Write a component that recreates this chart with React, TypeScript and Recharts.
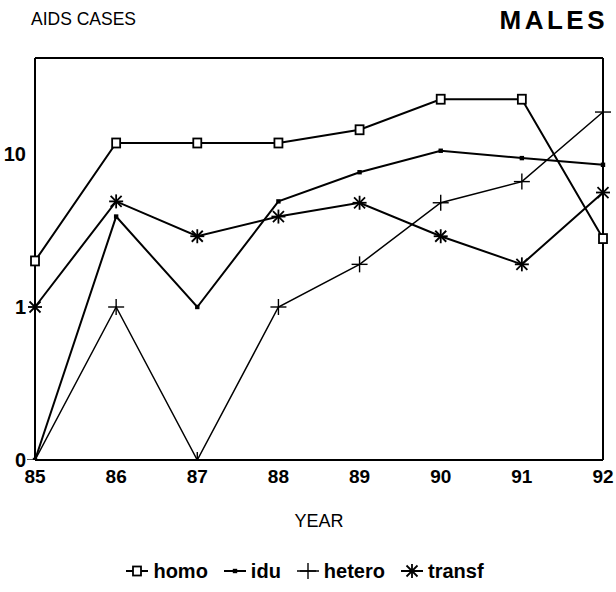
import React from 'react';
import { LineChart, Line, XAxis, YAxis, ReferenceLine } from 'recharts';

const years = [85, 86, 87, 88, 89, 90, 91, 92];
const homo = [2, 11.8, 11.8, 11.8, 14.4, 22.8, 22.8, 2.8];
const idu = [0, 3.9, 1, 4.9, 7.6, 10.5, 9.4, 8.5];
const hetero = [0, 1, 0, 1, 1.9, 4.8, 6.6, 18.8];
const transf = [1, 4.9, 2.9, 3.9, 4.8, 2.9, 1.9, 5.6];
const yTicks = [0, 1, 10];
const seriesNames = ['homo', 'idu', 'hetero', 'transf'];

// log axis: a zero value is drawn at the bottom of the axis
const LOG_FLOOR = 0.1;
const Y_TOP = 42.4;
const toLog = (v: number) => (v <= 0 ? LOG_FLOOR : v);

const data = years.map((y, i) => ({
  year: y,
  homo: toLog(homo[i]),
  idu: toLog(idu[i]),
  hetero: toLog(hetero[i]),
  transf: toLog(transf[i]),
}));

const FONT = '"Liberation Sans", Arial, Helvetica, sans-serif';
const NARROW = '"Liberation Sans Narrow", "Liberation Sans", Arial, sans-serif';

const SquareOpen = (p: any) => {
  if (p.cx == null) return null;
  return <rect x={p.cx - 4} y={p.cy - 4.5} width={8} height={9} fill="#fff" stroke="#000" strokeWidth={1.8} />;
};
const SquareSmall = (p: any) => {
  if (p.cx == null) return null;
  return <rect x={p.cx - 2.2} y={p.cy - 2.2} width={4.4} height={4.4} fill="#000" />;
};
const Plus = (p: any) => {
  if (p.cx == null) return null;
  const s = 8;
  return (
    <g stroke="#000" strokeWidth={1.4}>
      <line x1={p.cx - s} y1={p.cy} x2={p.cx + s} y2={p.cy} />
      <line x1={p.cx} y1={p.cy - s} x2={p.cx} y2={p.cy + s} />
    </g>
  );
};
const Star = (p: any) => {
  if (p.cx == null) return null;
  const s = 7;
  const d = 5.5;
  return (
    <g stroke="#000" strokeWidth={1.8}>
      <line x1={p.cx - s} y1={p.cy} x2={p.cx + s} y2={p.cy} />
      <line x1={p.cx} y1={p.cy - s} x2={p.cx} y2={p.cy + s} />
      <line x1={p.cx - d} y1={p.cy - d} x2={p.cx + d} y2={p.cy + d} />
      <line x1={p.cx - d} y1={p.cy + d} x2={p.cx + d} y2={p.cy - d} />
    </g>
  );
};

const dots: Record<string, any> = {
  homo: SquareOpen,
  idu: SquareSmall,
  hetero: Plus,
  transf: Star,
};
const widths: Record<string, number> = { homo: 2, idu: 2, hetero: 1.5, transf: 2 };

const LegendIcon = ({ name }: { name: string }) => {
  const D = dots[name];
  return (
    <svg width={26} height={18} style={{ verticalAlign: 'middle' }}>
      <line x1={2} y1={8} x2={24} y2={8} stroke="#000" strokeWidth={widths[name]} />
      <D cx={13} cy={8} />
    </svg>
  );
};

export default function App() {
  return (
    <div style={{ position: 'absolute', left: 0, top: 0, width: 616, height: 592, background: '#fff' }}>
      <div style={{ position: 'absolute', left: 31, top: 9, fontFamily: FONT, fontSize: 17.5, color: '#000' }}>
        AIDS CASES
      </div>
      <div
        style={{
          position: 'absolute',
          right: 8,
          top: 5,
          fontFamily: FONT,
          fontSize: 26,
          fontWeight: 'bold',
          letterSpacing: 3.5,
          color: '#000',
        }}
      >
        MALES
      </div>
      <LineChart width={616} height={592} data={data} margin={{ top: 58, right: 13, left: 0, bottom: 0 }}>
        <XAxis
          dataKey="year"
          type="number"
          domain={[85, 92]}
          ticks={years}
          tickLine={false}
          tickMargin={4}
          axisLine={{ stroke: '#000', strokeWidth: 2 }}
          tick={{ fill: '#000', fontSize: 19, fontWeight: 'bold', fontFamily: FONT }}
          height={132}
          label={{ value: 'YEAR', position: 'insideBottom', offset: 65, fill: '#000', fontSize: 18, fontFamily: FONT }}
        />
        <YAxis
          scale="log"
          domain={[LOG_FLOOR, Y_TOP]}
          allowDataOverflow
          ticks={yTicks.map(toLog)}
          tickFormatter={(v: number) => (v <= LOG_FLOOR ? '0' : String(v))}
          width={35}
          tickLine={false}
          tickMargin={3}
          axisLine={{ stroke: '#000', strokeWidth: 2 }}
          tick={{ fill: '#000', fontSize: 20, fontWeight: 'bold', fontFamily: FONT }}
        />
        <ReferenceLine y={Y_TOP} stroke="#000" strokeWidth={2} />
        <ReferenceLine x={92} stroke="#000" strokeWidth={2} />
        {seriesNames.map((n) => {
          const D = dots[n];
          return (
            <Line
              key={n}
              dataKey={n}
              type="linear"
              stroke="#000"
              strokeWidth={widths[n]}
              dot={(p: any) => <D key={`${n}-${p.index}`} cx={p.cx} cy={p.cy} />}
              activeDot={false}
              isAnimationActive={false}
            />
          );
        })}
      </LineChart>
      <div
        style={{
          position: 'absolute',
          left: 0,
          top: 560,
          width: 616,
          display: 'flex',
          justifyContent: 'center',
          alignItems: 'center',
          fontFamily: NARROW,
          fontWeight: 'bold',
          fontSize: 20,
          color: '#000',
          paddingLeft: 6,
          boxSizing: 'border-box',
        }}
      >
        {seriesNames.map((n) => (
          <span key={n} style={{ display: 'inline-flex', alignItems: 'center', marginRight: 14 }}>
            <LegendIcon name={n} />
            <span style={{ marginLeft: 3 }}>{n}</span>
          </span>
        ))}
      </div>
    </div>
  );
}
